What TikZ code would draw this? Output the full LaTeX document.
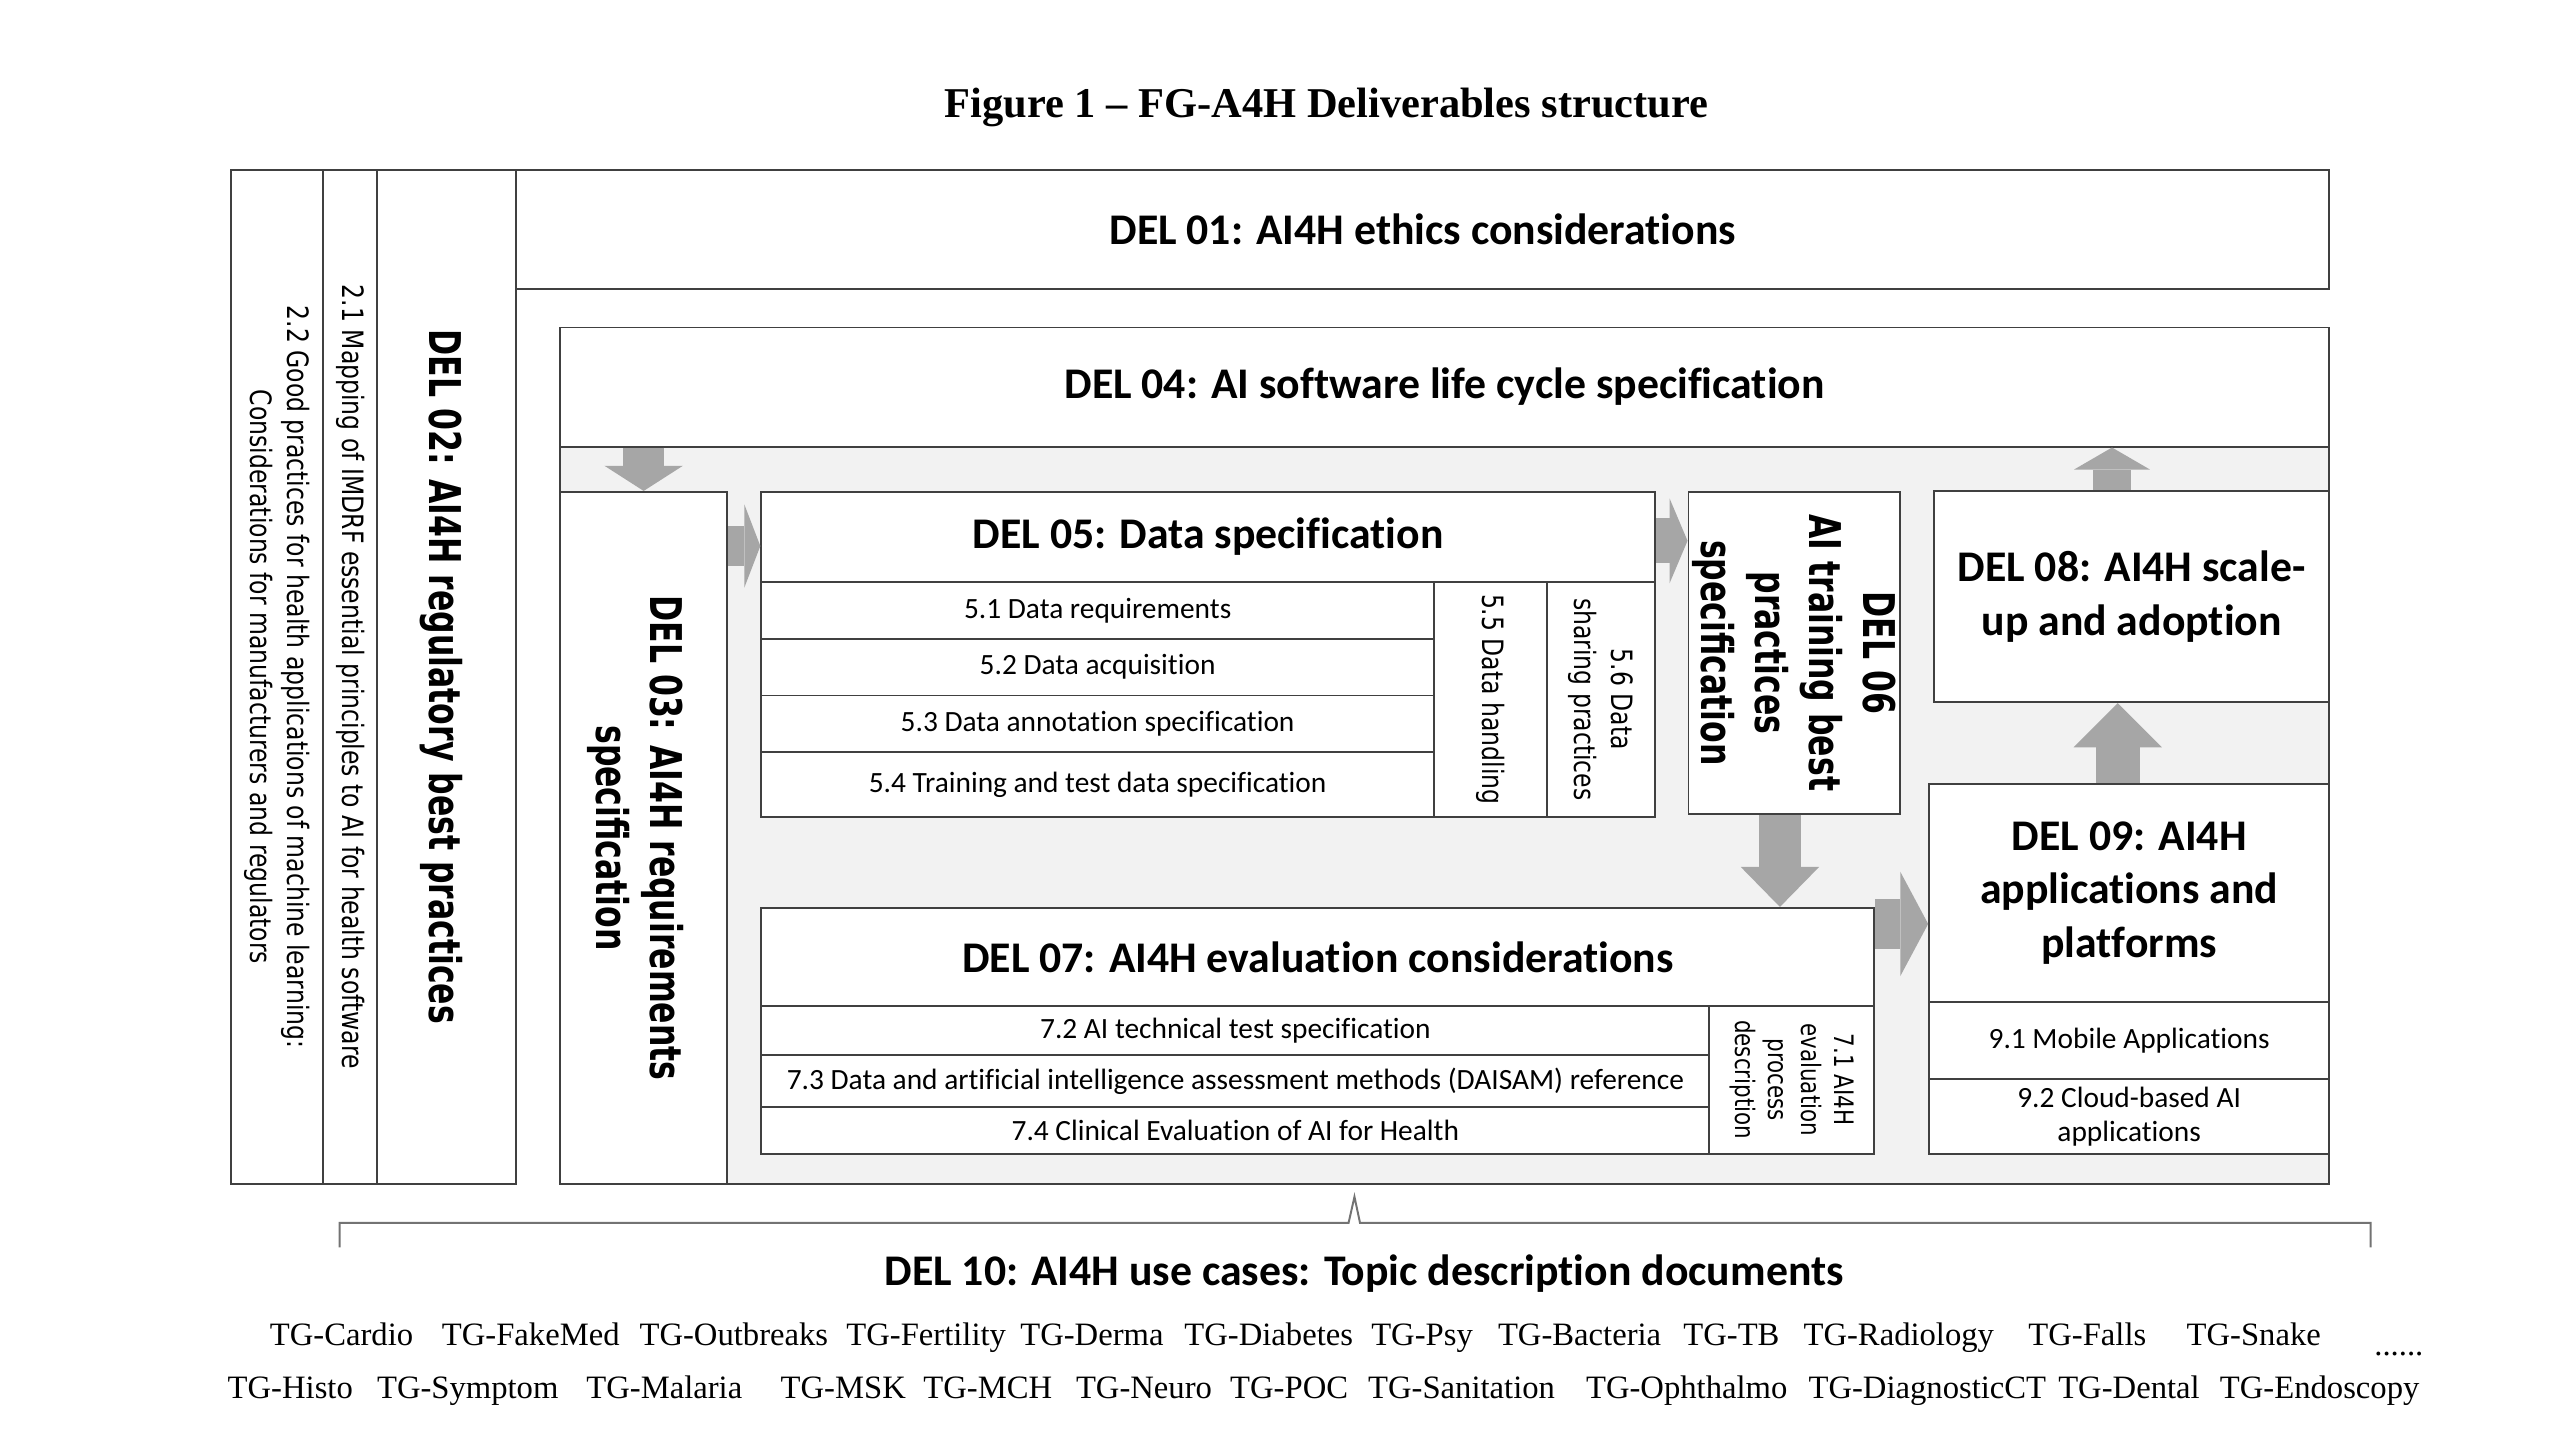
\documentclass[tikz,border=0pt]{standalone}
\usepackage{fontspec}
\setmainfont{Liberation Serif}
\newfontfamily\calfont[Ligatures=NoCommon]{Carlito}
\newfontfamily\verdfont[FakeStretch=0.72]{DejaVu Sans}
\newfontfamily\verdsmall[FakeStretch=0.8]{DejaVu Sans}
\usetikzlibrary{arrows.meta}

\newcommand\delfont{\calfont\bfseries\fontsize{13.4}{16.4}\selectfont}
\newcommand\subfont{\calfont\fontsize{9}{10.6}\selectfont}
\newcommand\rotbold{\verdfont\bfseries\fontsize{13.4}{16.6}\selectfont}
\newcommand\rotsmall{\verdsmall\fontsize{9}{11.2}\selectfont}
\newcommand\rottiny{\verdsmall\fontsize{8.2}{10.2}\selectfont}
\newcommand\tgfont{\fontsize{10}{12}\selectfont}

\tikzset{
  delbox/.style={draw=black!75, line width=0.6pt, fill=white, anchor=north west, inner sep=0pt, align=center},
  rotlabel/.style={rotate=-90, align=center, inner sep=0pt},
  blockarrow/.style={draw=black!35, line cap=butt}
}

\begin{document}
\begin{tikzpicture}[x=0.5pt,y=-0.5pt]
  \useasboundingbox (0,0) rectangle (1568,882);

  \node[font=\bfseries\fontsize{13}{15}\selectfont] (title) at (812.5,66) {Figure 1 -- FG-A4H Deliverables structure};

  \node[delbox, minimum width=28.2pt,  minimum height=310.6pt] (c22)   at (141,103.4)   {};
  \node[delbox, minimum width=16.55pt, minimum height=310.6pt] (c21)   at (197.4,103.4) {};
  \node[delbox, minimum width=42.55pt, minimum height=310.6pt] (del02) at (230.5,103.4) {};
  \node[delbox, minimum width=555.2pt, minimum height=36.6pt, font=\delfont] (del01) at (315.6,103.4) {DEL 01: AI4H ethics considerations};

  \node[delbox, fill=black!5, minimum width=541.75pt, minimum height=262.3pt] (region) at (342.5,200) {};
  \node[delbox, minimum width=541.75pt, minimum height=36.45pt, font=\delfont] (del04) at (342.5,200) {DEL 04: AI software life cycle specification};
  \node[delbox, minimum width=51.15pt, minimum height=211.95pt] (del03) at (342.5,300.7) {};

  \node[delbox, minimum width=273.65pt, minimum height=27.55pt, font=\delfont] (del05) at (465.7,300.7) {DEL 05: Data specification};
  \node[delbox, minimum width=206pt, minimum height=17.45pt, font=\subfont] (d51) at (465.7,355.8) {5.1 Data requirements};
  \node[delbox, minimum width=206pt, minimum height=17.35pt, font=\subfont] (d52) at (465.7,390.7) {5.2 Data acquisition};
  \node[delbox, minimum width=206pt, minimum height=17.3pt,  font=\subfont] (d53) at (465.7,425.4) {5.3 Data annotation specification};
  \node[delbox, minimum width=206pt, minimum height=19.8pt,  font=\subfont] (d54) at (465.7,460)   {5.4 Training and test data specification};
  \node[delbox, minimum width=34.65pt, minimum height=71.9pt] (d55) at (877.7,355.8) {};
  \node[delbox, minimum width=33pt,    minimum height=71.9pt] (d56) at (947,355.8)   {};

  \node[delbox, minimum width=64.7pt, minimum height=98.55pt] (del06) at (1033.6,300.7) {};
  \node[delbox, minimum width=121pt, minimum height=64.75pt, font=\delfont] (del08) at (1184,300) {DEL 08: AI4H scale-\\up and adoption};
  \node[delbox, minimum width=122.5pt, minimum height=66.7pt, font=\delfont] (del09) at (1181,479.6) {DEL 09: AI4H\\applications and\\platforms};
  \node[delbox, minimum width=122.5pt, minimum height=23.65pt, font=\subfont] (d91) at (1181,613)   {9.1 Mobile Applications};
  \node[delbox, minimum width=122.5pt, minimum height=23pt,    font=\subfont] (d92) at (1181,660.3) {9.2 Cloud-based AI\\applications};

  \node[delbox, minimum width=340.9pt, minimum height=30pt, font=\delfont] (del07) at (465.7,555.5) {DEL 07: AI4H evaluation considerations};
  \node[delbox, minimum width=290.35pt, minimum height=15.05pt, font=\subfont] (d72) at (465.7,615.5) {7.2 AI technical test specification};
  \node[delbox, minimum width=290.35pt, minimum height=15.9pt,  font=\subfont] (d73) at (465.7,645.6) {7.3 Data and artificial intelligence assessment methods (DAISAM) reference};
  \node[delbox, minimum width=290.35pt, minimum height=14.3pt,  font=\subfont] (d74) at (465.7,677.4) {7.4 Clinical Evaluation of AI for Health};
  \node[delbox, minimum width=50.55pt, minimum height=45.25pt] (d71) at (1046.4,615.5) {};

  \node[rotlabel, font=\rotsmall] (c22t)   at (c22.center) {2.2 Good practices for health applications of machine learning:\\Considerations for manufacturers and regulators};
  \node[rotlabel, font=\rotsmall] (c21t)   at (c21.center) {2.1 Mapping of IMDRF essential principles to AI for health software};
  \node[rotlabel, font=\rotbold]  (del02t) at ([xshift=-1.5pt]del02.center) {DEL 02: AI4H regulatory best practices};
  \node[rotlabel, font=\rotbold]  (del03t) at ([xshift=-2.5pt]del03.center) {DEL 03: AI4H requirements\\specification};
  \node[rotlabel, font=\rotsmall] (d55t)   at (d55.center) {5.5 Data handling};
  \node[rotlabel, font=\rotsmall] (d56t)   at (d56.center) {5.6 Data\\sharing practices};
  \node[rotlabel, font=\rotbold]  (del06t) at (del06.center) {DEL 06\\AI training best\\practices\\specification};
  \node[rotlabel, font=\rottiny]  (d71t)   at (d71.center) {7.1 AI4H\\evaluation\\process\\description};

  \draw[blockarrow, line width=12.5pt, -{Triangle[width=24pt 0 0, length=7.7pt 0 0, line width=0pt 0 0]}] (del04.south -| del03.north) -- (del03.north);
  \draw[blockarrow, line width=12.25pt, -{Triangle[width=25.5pt 0 0, length=4.9pt 0 0, line width=0pt 0 0]}] ([yshift=-2.8pt]del05.west -| del03.east) -- ([yshift=-2.8pt]del05.west);
  \draw[blockarrow, line width=13.75pt, -{Triangle[width=26pt 0 0, length=5.5pt 0 0, line width=0pt 0 0]}] ([yshift=-1.2pt]del05.east) -- ([yshift=-1.2pt]del05.east -| del06.west);
  \draw[blockarrow, line width=12.85pt, -{Triangle[width=24pt 0 0, length=12.25pt 0 0, line width=0pt 0 0]}] ([xshift=-4.35pt]del06.south) -- ([xshift=-4.35pt]del06.south |- del07.north);
  \draw[blockarrow, line width=15.3pt, -{Triangle[width=32pt 0 0, length=8.55pt 0 0, line width=0pt 0 0]}] ([yshift=10.1pt]del07.east) -- ([yshift=10.1pt]del07.east -| del09.west);
  \draw[blockarrow, line width=13.5pt, -{Triangle[width=27pt 0 0, length=13.5pt 0 0, line width=0pt 0 0]}] ([xshift=-3.5pt]del09.north) -- ([xshift=-3.5pt]del09.north |- del08.south);
  \draw[blockarrow, line width=11.5pt, -{Triangle[width=23.25pt 0 0, length=6.75pt 0 0, line width=0pt 0 0]}] ([xshift=-6pt]del08.north) -- ([xshift=-6pt]del08.north |- del04.south);

  \draw[black!55, line width=0.6pt] (208,764) -- (208,749) -- (826,749) -- (829.6,733) -- (833,749) -- (1452,749) -- (1452,764);
  \node[font=\delfont] (del10) at (835.5,780.3) {DEL 10: AI4H use cases: Topic description documents};

  \begin{scope}
    \tikzstyle{every node}=[font=\tgfont, inner sep=0pt, anchor=base]
    \node (cardio)     at (209.2,824)  {TG-Cardio};
    \node (fakemed)    at (325.1,824)  {TG-FakeMed};
    \node (outbreaks)  at (449.5,824)  {TG-Outbreaks};
    \node (fertility)  at (567.3,824)  {TG-Fertility};
    \node (derma)      at (668.8,824)  {TG-Derma};
    \node (diabetes)   at (777.1,824)  {TG-Diabetes};
    \node (psy)        at (871,824)    {TG-Psy};
    \node (bacteria)   at (967.5,824)  {TG-Bacteria};
    \node (tb)         at (1060.5,824) {TG-TB};
    \node (radiology)  at (1163,824)   {TG-Radiology};
    \node (falls)      at (1278.5,824) {TG-Falls};
    \node (snake)      at (1380.4,824) {TG-Snake};
    \node (more)       at (1469.3,830) {......};
    \node (histo)      at (177.8,856.5)  {TG-Histo};
    \node (symptom)    at (286.5,856.5)  {TG-Symptom};
    \node (malaria)    at (406.9,856.5)  {TG-Malaria};
    \node (msk)        at (516.5,856.5)  {TG-MSK};
    \node (mch)        at (605,856.5)    {TG-MCH};
    \node (neuro)      at (700.7,856.5)  {TG-Neuro};
    \node (poc)        at (789.6,856.5)  {TG-POC};
    \node (sanitation) at (895.2,856.5)  {TG-Sanitation};
    \node (ophthalmo)  at (1033.1,856.5) {TG-Ophthalmo};
    \node (diagct)     at (1180.5,856.5) {TG-DiagnosticCT};
    \node (dental)     at (1304,856.5)   {TG-Dental};
    \node (endoscopy)  at (1420.8,856.5) {TG-Endoscopy};
  \end{scope}
\end{tikzpicture}
\end{document}
